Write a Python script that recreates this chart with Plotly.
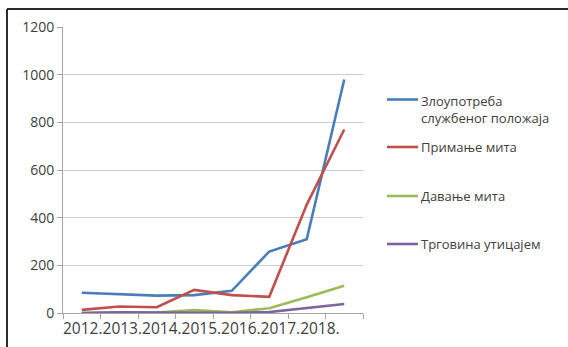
import plotly.graph_objects as go

# Yearly counts per criminal offence
years = ["2012.", "2013.", "2014.", "2015.", "2016.", "2017.", "2018."]
points = list(range(8))

zloupotreba = [85, 80, 73, 75, 93, 258, 310, 980]
primanje = [13, 27, 24, 97, 75, 68, 455, 770]
davanje = [0, 3, 2, 12, 3, 20, 66, 114]
trgovina = [0, 3, 2, 1, 1, 4, 20, 38]

series_names = ["Злоупотреба<br>службеног положаја", "Примање мита", "Давање мита", "Трговина утицајем"]
series_values = [zloupotreba, primanje, davanje, trgovina]
colors = ["#4a7ebb", "#c0504d", "#9bbb59", "#7f63a1"]

W, H = 568, 347
L, R, T, B = 63, 363, 27, 313  # plot area in pixels


def px(x):
    return (x - L) / (R - L)


def py(y):
    return (B - y) / (B - T)


fig = go.Figure()
for name, vals, col in zip(series_names, series_values, colors):
    fig.add_trace(go.Scatter(x=points, y=vals, mode="lines", name=name,
                             line=dict(color=col, width=2.6), showlegend=False))

font_main = "Open Sans, Arial, sans-serif"
txt = "#404040"

annotations = [
    dict(text="".join(years), xref="paper", yref="paper", x=px(61), y=py(328),
         xanchor="left", yanchor="middle", showarrow=False,
         font=dict(family=font_main, size=15.5, color=txt))
]
shapes = [
    # outer frame (top and left edges)
    dict(type="line", xref="paper", yref="paper", x0=px(7), x1=px(W), y0=py(9), y1=py(9),
         line=dict(color="#2b2b2b", width=2)),
    dict(type="line", xref="paper", yref="paper", x0=px(7), x1=px(7), y0=py(9), y1=py(H),
         line=dict(color="#2b2b2b", width=2)),
]

# legend: sample line + label per series
legend_y = [99.5, 147, 196, 244]
for name, col, ly in zip(series_names, colors, legend_y):
    shapes.append(dict(type="line", xref="paper", yref="paper", x0=px(387), x1=px(418),
                       y0=py(ly), y1=py(ly), line=dict(color=col, width=2.6)))
    two_line = "<br>" in name
    annotations.append(dict(text=name, xref="paper", yref="paper", x=px(419),
                            y=py(ly - 9) if two_line else py(ly),
                            xanchor="left", yanchor="top" if two_line else "middle",
                            align="left", showarrow=False,
                            font=dict(family=font_main, size=13, color=txt)))

fig.update_layout(
    width=W, height=H,
    margin=dict(l=L, r=W - R, t=T, b=H - B),
    paper_bgcolor="white", plot_bgcolor="white",
    xaxis=dict(range=[-0.5, 7.5], tickmode="array",
               tickvals=[i - 0.5 for i in range(9)], showticklabels=False,
               ticks="outside", ticklen=5, tickcolor="#a6a6a6",
               showgrid=False, zeroline=False, showline=True,
               linecolor="#a6a6a6", linewidth=1),
    yaxis=dict(range=[0, 1200], tickvals=[0, 200, 400, 600, 800, 1000, 1200],
               ticks="outside", ticklen=5, tickcolor="#a6a6a6",
               showgrid=True, gridcolor="#cfcfcf", gridwidth=1,
               zeroline=False, showline=True, linecolor="#a6a6a6", linewidth=1,
               tickfont=dict(family=font_main, size=14, color=txt)),
    shapes=shapes, annotations=annotations,
)

fig.write_html("out.html")
